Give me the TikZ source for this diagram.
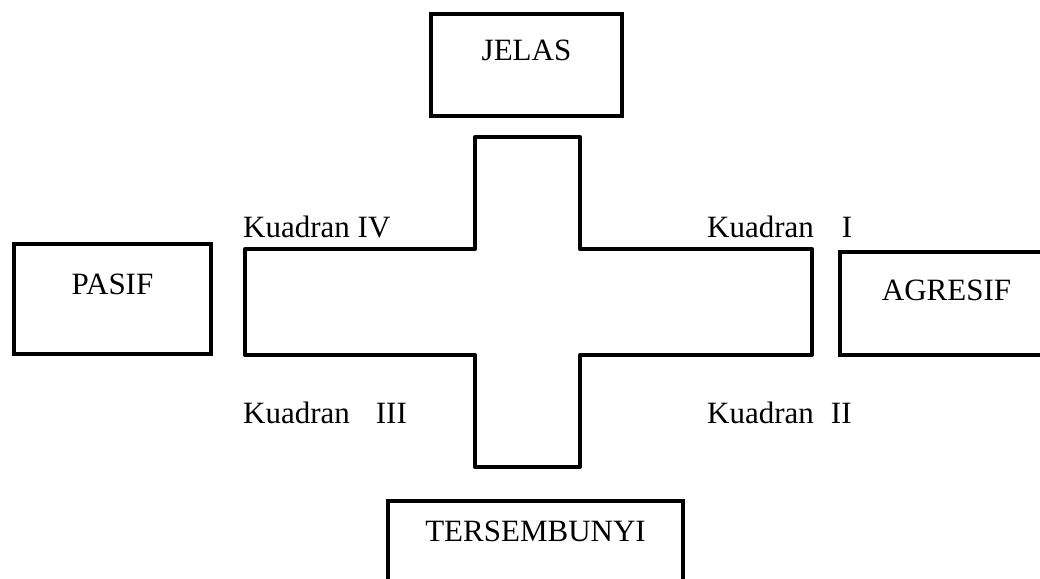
\documentclass[tikz,border=0pt]{standalone}
\usepackage{fontspec}
\setmainfont{Liberation Serif}
\usetikzlibrary{positioning}

\tikzset{
  kotak/.style={draw, line width=4pt, inner sep=0pt, font=\fontsize{31}{36}\selectfont},
  kuadran/.style={inner sep=0pt, anchor=base west, font=\fontsize{31}{36}\selectfont}
}

\begin{document}
\begin{tikzpicture}[x=1pt,y=-1pt]
\useasboundingbox (0,0) rectangle (1040,578);

\node[kotak, minimum width=191pt, minimum height=102pt, text depth=29pt] (jelas) at (526.5,65) {JELAS};
\node[kotak, minimum width=197pt, minimum height=110pt, text depth=30pt] (pasif) at (112.5,299) {PASIF};
\node[kotak, minimum width=213pt, minimum height=103pt, text depth=27pt] (agresif) at (946.5,303.5) {AGRESIF};
\node[kotak, minimum width=295pt, minimum height=100pt, text depth=40pt] (tersembunyi) at (535.5,551) {TERSEMBUNYI};

% salib
\draw[line width=4pt, line join=round]
  (475,137) -- (580,137) -- (580,249) -- (812,249) -- (812,355) -- (580,355)
  -- (580,467) -- (475,467) -- (475,355) -- (245,355) -- (245,249) -- (475,249) -- cycle;

\node[kuadran] (k4) at (243,237) {Kuadran IV};
\node[kuadran] (k1) at (707,237) {Kuadran\hspace{28pt}I};
\node[kuadran] (k3) at (243,423) {Kuadran\hspace{26pt}III};
\node[kuadran] (k2) at (707,423) {Kuadran\hspace{17pt}II};
\end{tikzpicture}
\end{document}
